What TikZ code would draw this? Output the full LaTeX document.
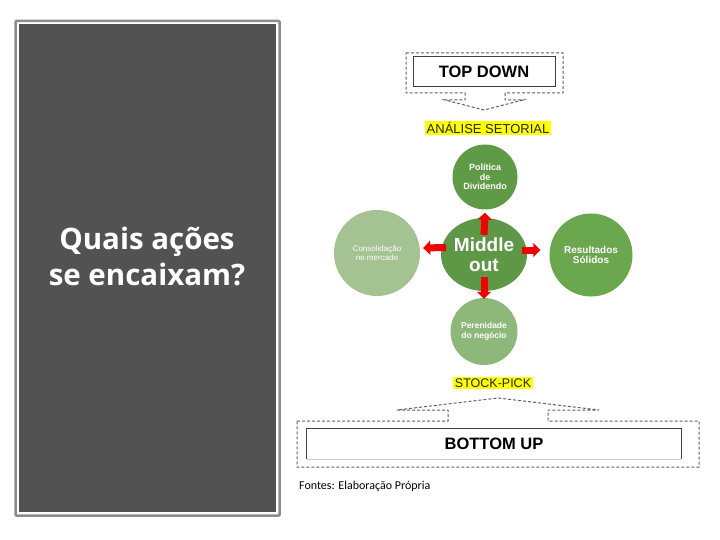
\documentclass[tikz,border=0pt]{standalone}
\usepackage{fontspec}
\setmainfont{Liberation Sans}
\newfontfamily\calf{Carlito}
\newfontfamily\opsf{Open Sans}
\usetikzlibrary{shapes.geometric,arrows.meta}
\definecolor{panelgray}{HTML}{525252}
\definecolor{bordergray}{HTML}{8C8C8C}
\definecolor{dashgray}{HTML}{606060}
\definecolor{gTop}{HTML}{5F9A47}
\definecolor{gMid}{HTML}{5E9846}
\definecolor{gRight}{HTML}{6AA74F}
\definecolor{gLeft}{HTML}{A5C293}
\definecolor{gBot}{HTML}{8DB879}
\definecolor{hiyellow}{HTML}{FFFF00}
\definecolor{arrred}{HTML}{F00000}
\tikzset{
  dashbox/.style={draw=dashgray, line width=1pt, dash pattern=on 3pt off 2pt},
  solidbox/.style={draw=black!75, line width=1pt, fill=white, inner sep=0pt},
  hilite/.style={fill=hiyellow, inner xsep=1.5pt, inner ysep=1.5pt, text=black!85},
  bubble/.style={circle, inner sep=0pt, text=white, align=center, font=\fontsize{9}{9.5}\selectfont\bfseries},
  redarrow/.style={draw=arrred, line width=7pt, -{Triangle[width=14pt,length=7pt]}},
}
\begin{document}
\begin{tikzpicture}[x=1pt,y=-1pt]
\useasboundingbox (0,0) rectangle (720,540);
% left panel
\draw[bordergray, line width=2.5pt, rounded corners=1pt] (15.5,21) rectangle (279.5,515.5);
\fill[panelgray] (19,24.5) rectangle (276,512);
\node[text=white, align=center, font=\opsf\fontsize{29.5}{36}\selectfont\bfseries] (q) at (147,256) {Quais ações\\se encaixam?};
% top down callout
\draw[dashbox] (406,53) -- (563,53) -- (563,93) -- (505,93) -- (505,100) -- (523,100) -- (484,110) -- (445,100) -- (465,100) -- (465,93) -- (406,93) -- cycle;
\node[solidbox, minimum width=142pt, minimum height=30pt, font=\fontsize{16.5}{18}\selectfont\bfseries] (td) at (484,72) {TOP DOWN};
\node[hilite, font=\fontsize{13}{14}\selectfont] (an) at (488,128) {ANÁLISE SETORIAL};
% circles
\node[bubble, fill=gTop, minimum size=65pt] (top) at (485,177) {Política\\de\\Dividendo};
\node[ellipse, fill=gMid, minimum width=86pt, minimum height=73pt, inner sep=0pt, text=white, align=center, font=\fontsize{19}{20}\selectfont\bfseries] (mid) at (484,254.5) {Middle\\out};
\node[bubble, fill=gLeft, minimum size=86pt, font=\fontsize{8}{9.5}\selectfont] (lft) at (377,253) {Consolidação\\no mercado};
\node[bubble, fill=gRight, minimum size=83pt, font=\fontsize{10}{10.5}\selectfont\bfseries] (rgt) at (591,255) {Resultados\\Sólidos};
\node[bubble, fill=gBot, minimum size=67pt, font=\fontsize{8.5}{9.5}\selectfont\bfseries] (bot) at (484,331.5) {Perenidade\\do negócio};
% red arrows
\draw[redarrow] ([yshift=-17pt]mid.north) -- ([yshift=-3pt]top.south);
\draw[redarrow] ([yshift=14pt]mid.south) -- ([yshift=-1pt]bot.north);
\draw[redarrow] ([xshift=5pt,yshift=7pt]mid.west) -- ([xshift=3pt,yshift=5pt]lft.east);
\draw[redarrow] ([xshift=-5pt,yshift=4.5pt]mid.east) -- ([xshift=-9pt,yshift=5pt]rgt.west);
% stock pick
\node[hilite, font=\fontsize{12.5}{14}\selectfont] (sp) at (493,383) {STOCK-PICK};
% bottom up callout
\draw[dashbox] (297,421) -- (448,421) -- (448,410) -- (397,410) -- (498,398) -- (599,410) -- (548,410) -- (548,421) -- (699,421) -- (699,467) -- (297,467) -- cycle;
\node[minimum width=374pt, minimum height=30pt, inner sep=0pt, font=\fontsize{16.5}{18}\selectfont\bfseries] (bu) at (494,444) {BOTTOM UP};
\draw[black!75, line width=1pt] (bu.south west) -- (bu.north west) -- (bu.north east) -- (bu.south east);
\draw[black!20, line width=1pt] (bu.south west) -- (bu.south east);
% source
\node[anchor=west, font=\calf\fontsize{12}{13}\selectfont, inner sep=0pt] (src) at (299,486) {Fontes: Elaboração Própria};
\end{tikzpicture}
\end{document}
